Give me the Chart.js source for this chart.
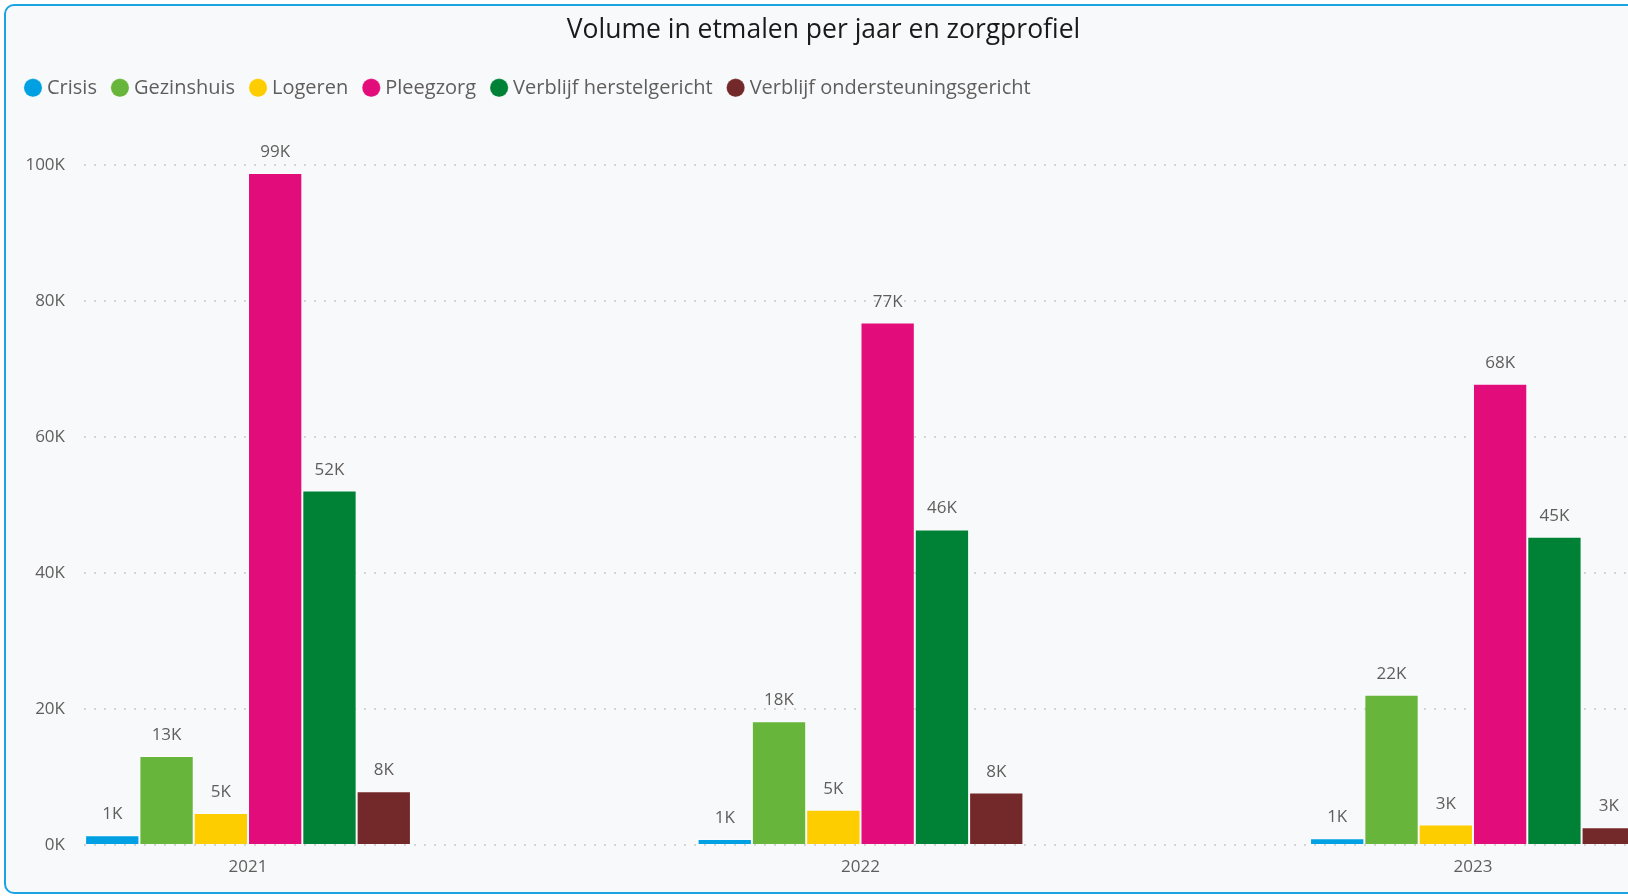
<!DOCTYPE html>
<html>
<head>
<meta charset="utf-8">
<script src="https://cdn.jsdelivr.net/npm/chart.js@4.4.1/dist/chart.umd.min.js"></script>
<style>
  html, body { margin: 0; padding: 0; background: #fff; overflow: hidden; width: 1628px; height: 896px; }
  #card { position: absolute; left: 4px; top: 4px; width: 1680px; height: 890px; box-sizing: border-box;
          border: 2px solid #1ba3e3; border-radius: 10px; background: #f8f9fb; }
  #wrap { position: absolute; left: 0; top: 0; width: 1660px; height: 896px; }
</style>
</head>
<body>
<div id="card"></div>
<div id="wrap"><canvas id="chart"></canvas></div>
<script>
// jaren en volumes (etmalen)
const years = ['2021', '2022', '2023'];
const crisis = [1450, 900, 1000];
const gezinshuis = [13100, 18200, 22100];
const logeren = [4700, 5200, 3000];
const pleegzorg = [98800, 76800, 67800];
const herstelgericht = [52100, 46400, 45300];
const ondersteuningsgericht = [7900, 7700, 2600];

const yTicks = [0, 20000, 40000, 60000, 80000, 100000];

const series = [
  { label: 'Crisis', values: crisis, color: '#00a0e3' },
  { label: 'Gezinshuis', values: gezinshuis, color: '#67b53b' },
  { label: 'Logeren', values: logeren, color: '#fecd00' },
  { label: 'Pleegzorg', values: pleegzorg, color: '#e20c7b' },
  { label: 'Verblijf herstelgericht', values: herstelgericht, color: '#008236' },
  { label: 'Verblijf ondersteuningsgericht', values: ondersteuningsgericht, color: '#73292a' }
];

const fmtK = v => Math.round(v / 1000) + 'K';
const FONT = "'Open Sans', 'Segoe UI', sans-serif";

// waardelabels boven de staven
const valueLabels = {
  id: 'valueLabels',
  afterDatasetsDraw(chart) {
    const ctx = chart.ctx;
    ctx.save();
    ctx.font = '17px ' + FONT;
    ctx.fillStyle = '#605e5c';
    ctx.textAlign = 'center';
    ctx.textBaseline = 'alphabetic';
    chart.data.datasets.forEach((ds, i) => {
      chart.getDatasetMeta(i).data.forEach((bar, j) => {
        ctx.fillText(fmtK(ds.data[j].y), bar.x, bar.y - 16);
      });
    });
    ctx.restore();
  }
};

// extra ruimte onder de legenda
const legendGap = {
  id: 'legendGap',
  beforeInit(chart) {
    const fit = chart.legend.fit;
    chart.legend.fit = function () {
      fit.bind(chart.legend)();
      this.height += 57;
    };
  }
};

new Chart(document.getElementById('chart').getContext('2d'), {
  type: 'bar',
  data: {
    datasets: series.map(s => ({
      label: s.label,
      data: s.values.map((v, i) => ({ x: i, y: v })),
      backgroundColor: s.color,
      borderColor: 'rgba(255,255,255,0.3)',
      borderWidth: 1,
      categoryPercentage: 0.532,
      barPercentage: 1.0
    }))
  },
  options: {
    responsive: true,
    maintainAspectRatio: false,
    animation: false,
    layout: { padding: { left: 10, right: 23, top: 0, bottom: 0 } },
    plugins: {
      title: {
        display: true,
        text: 'Volume in etmalen per jaar en zorgprofiel',
        color: '#1a1a1a',
        font: { family: FONT, size: 26.5, weight: 'normal' },
        padding: { top: 15, bottom: 12 }
      },
      legend: {
        align: 'start',
        labels: {
          usePointStyle: true,
          pointStyle: 'circle',
          boxWidth: 8,
          boxHeight: 13,
          padding: 19,
          color: '#605e5c',
          font: { family: FONT, size: 20 }
        }
      },
      tooltip: { enabled: false }
    },
    scales: {
      x: {
        type: 'linear',
        offset: false,
        min: -0.2678,
        max: 2.2678,
        grid: { display: false, offset: false },
        border: { display: false },
        afterFit(scale) { scale.height = 51; },
        afterBuildTicks(scale) { scale.ticks = years.map((y, i) => ({ value: i })); },
        ticks: {
          padding: 4,
          color: '#605e5c',
          font: { family: FONT, size: 17 },
          callback: (v, i) => years[i]
        }
      },
      y: {
        min: 0,
        max: 100000,
        afterFit(scale) { scale.width = 74; },
        afterBuildTicks(scale) { scale.ticks = yTicks.map(v => ({ value: v })); },
        grid: { color: '#d4d4d4', lineWidth: 2, drawTicks: false },
        border: { display: false, dash: [2, 8] },
        ticks: {
          padding: 19,
          color: '#605e5c',
          font: { family: FONT, size: 17 },
          callback: v => fmtK(v)
        }
      }
    }
  },
  plugins: [valueLabels, legendGap]
});
</script>
</body>
</html>
